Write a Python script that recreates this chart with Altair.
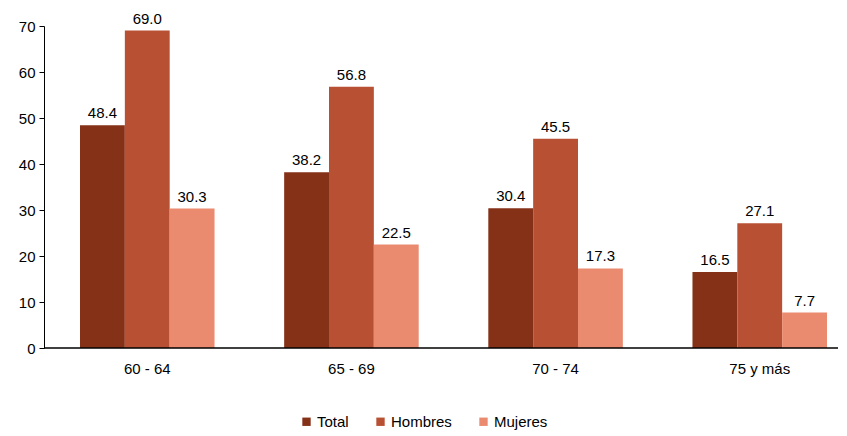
import altair as alt
import pandas as pd

categories = ["60 - 64", "65 - 69", "70 - 74", "75 y más"]
series = ["Total", "Hombres", "Mujeres"]
total = [48.4, 38.2, 30.4, 16.5]
hombres = [69.0, 56.8, 45.5, 27.1]
mujeres = [30.3, 22.5, 17.3, 7.7]
colors = ["#843118", "#b85133", "#ea8b70"]

rows = []
for i, c in enumerate(categories):
    for s, vals in zip(series, [total, hombres, mujeres]):
        rows.append({"cat": c, "serie": s, "valor": vals[i]})
df = pd.DataFrame(rows)

W, H = 794, 322
font = "Liberation Sans"
fs = 15
xenc = alt.X("cat:N", sort=categories, title=None,
             scale=alt.Scale(paddingInner=0.341, paddingOuter=0, range=[36, 783]),
             axis=alt.Axis(labelAngle=0, ticks=False, labelPadding=13, labelFontSize=fs,
                           labelFont=font, labelColor="#000", domain=False))
xoff = alt.XOffset("serie:N", sort=series, scale=alt.Scale(paddingInner=0, paddingOuter=0))

base = alt.Chart(df)
bars = base.mark_bar().encode(
    x=xenc,
    xOffset=xoff,
    y=alt.Y("valor:Q", title=None,
            scale=alt.Scale(domain=[0, 70], nice=False),
            axis=alt.Axis(values=[0, 10, 20, 30, 40, 50, 60, 70], grid=False, labelFontSize=fs,
                          labelFont=font, labelColor="#000", domainColor="#000", tickColor="#000",
                          tickSize=5, labelPadding=4)),
    color=alt.Color("serie:N", sort=series,
                    scale=alt.Scale(domain=series, range=colors),
                    legend=alt.Legend(title=None, orient="none", legendX=255, legendY=388,
                                      direction="horizontal",
                                      symbolType="square", symbolSize=70, labelFontSize=fs,
                                      labelFont=font, labelColor="#000", columnPadding=24,
                                      labelOffset=3, symbolStrokeWidth=0)),
)
texts = base.mark_text(dy=-4, baseline="bottom", fontSize=fs, font=font, color="#000").encode(
    x=alt.X("cat:N", sort=categories),
    xOffset=xoff,
    y="valor:Q",
    text=alt.Text("valor:Q", format=".1f"),
)
baseline_rule = alt.Chart(pd.DataFrame({"v": [0]})).mark_rule(color="#000", strokeWidth=1.5).encode(
    x=alt.value(0), x2=alt.value(W), y=alt.value(H)
)

chart = alt.layer(bars, texts, baseline_rule).properties(
    width=W, height=H,
    padding={"left": 10, "top": 3, "right": 0, "bottom": 0},
).configure_view(stroke=None).configure_scale(bandPaddingInner=0)

chart.save("out.html", embed_options={"renderer": "svg", "actions": False})
